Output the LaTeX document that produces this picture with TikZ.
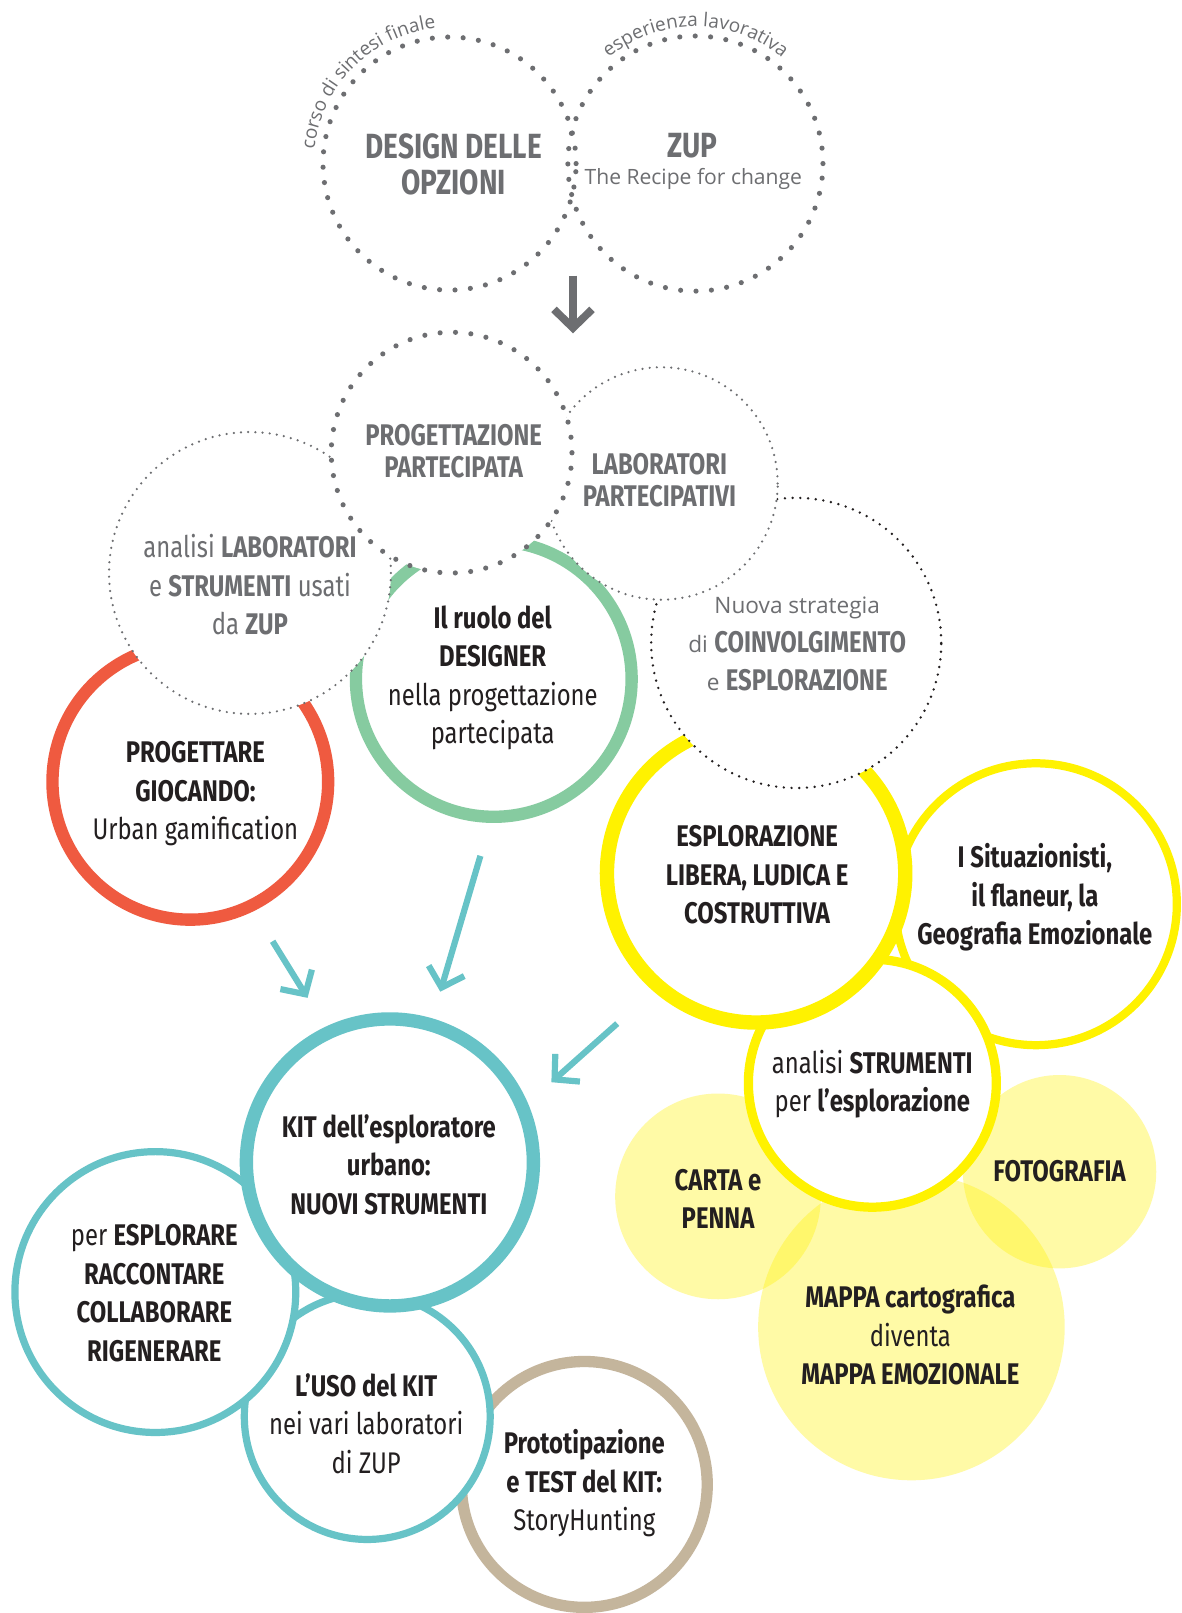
\documentclass[tikz,border=0pt]{standalone}
\usepackage{fontspec}
\setmainfont{Fira Sans}[FakeStretch=0.8]
\newfontfamily\osans{Open Sans}
\usetikzlibrary{arrows.meta,decorations.text}
\definecolor{cgray}{HTML}{6D6E71}
\definecolor{cdark}{HTML}{231F20}
\definecolor{cred}{HTML}{EF5A40}
\definecolor{cgreen}{HTML}{86CBA0}
\definecolor{cyel}{HTML}{FFF200}
\definecolor{cteal}{HTML}{67C3C7}
\definecolor{ctan}{HTML}{C4B59C}
\begin{document}
\begin{tikzpicture}[x=1pt,y=-1pt,
  ring/.style={circle, fill=white, inner sep=0pt},
  bigdots/.style={circle, draw=cgray, line width=5pt, line cap=round, dash pattern=on 0pt off 15pt, inner sep=0pt},
  finedots/.style={circle, draw=cgray, fill=white, line width=2.4pt, line cap=round, dash pattern=on 0pt off 7pt, inner sep=0pt},
  blob/.style={circle, fill=cyel, fill opacity=0.35, inner sep=0pt},
  tx/.style={align=center, text=cdark, font=\fontsize{29}{37.5}\selectfont},
  gtx/.style={align=center, text=cgray, font=\fontsize{29}{31}\selectfont},
  tealarrow/.style={draw=cteal, line width=6pt, -{Straight Barb[sharp, length=17pt, width=36pt, line width=6pt]}},
]
\fill[white] (0,0) rectangle (1149,1568);
\useasboundingbox (0,0) rectangle (1149,1568);

% top circles
\node[bigdots, minimum size=246pt] (design) at (437,159) {};
\node[bigdots, minimum size=248pt] (zup) at (676,159) {};
\path[decorate, decoration={text along path, text={|\osans\fontsize{18.5}{18.5}\selectfont|corso di sintesi finale}, text align=center, text color=cgray}]
  (design.center) ++(180:132) arc[start angle=180, end angle=270, radius=132];
\path[decorate, decoration={text along path, text={|\osans\fontsize{18.5}{18.5}\selectfont|esperienza lavorativa}, text align=center, text color=cgray}]
  (zup.center) ++(225:133) arc[start angle=225, end angle=315, radius=133];

\coordinate (ga1) at (557,268);
\coordinate (ga2) at (557,324);
\draw[draw=cgray, line width=7.5pt, -{Straight Barb[sharp, length=18pt, width=37pt, line width=7.5pt]}] (ga1) -- (ga2);

% middle colored rings
\node[ring, draw=cred, line width=12pt, minimum size=268pt] (red) at (185,760) {};
\node[ring, draw=cgreen, line width=12pt, minimum size=268pt] (green) at (480,660) {};

% light yellow blobs
\node[blob, minimum size=200pt] (carta) at (698,1163) {};
\node[blob, minimum size=188pt] (foto) at (1030,1139) {};
\node[blob, minimum size=298pt] (mappa) at (886,1290) {};

\node[ring, draw=cyel, line width=8pt, minimum size=274pt] (situ) at (1007,879) {};
\node[ring, draw=cyel, line width=9pt, minimum size=241pt] (strum) at (848,1053) {};
\node[ring, draw=cyel, line width=14pt, minimum size=290pt] (esplor) at (735,849) {};

% dotted white circles
\node[finedots, draw=cdark, line width=2.6pt, dash pattern=on 0pt off 7.5pt, minimum size=282pt] (nuova) at (774,625) {};
\node[finedots, minimum size=226pt] (labor) at (643,470) {};
\node[finedots, minimum size=274pt] (analisi) at (243,557) {};
\node[bigdots, fill=white, minimum size=234pt] (prog) at (439,440) {};

% bottom rings
\node[ring, draw=ctan, line width=11pt, minimum size=239pt] (proto) at (568,1443) {};
\node[ring, draw=cteal, line width=7pt, minimum size=239pt] (uso) at (357,1377) {};
\node[ring, draw=cteal, line width=7pt, minimum size=273pt] (per) at (151,1256) {};
\node[ring, draw=cteal, line width=13pt, minimum size=279pt] (kit) at (379,1130) {};

% teal arrows
\coordinate (a1s) at (265,915); \coordinate (a1e) at (299,970);
\coordinate (a2s) at (467,832); \coordinate (a2e) at (428,964);
\coordinate (a3s) at (600,995); \coordinate (a3e) at (536,1052);
\draw[tealarrow] (a1s) -- (a1e);
\draw[tealarrow] (a2s) -- (a2e);
\draw[tealarrow] (a3s) -- (a3e);

% texts
\node[gtx, font=\fontsize{34}{35}\selectfont\bfseries] (tdesign) at (441,159.5) {DESIGN DELLE\\OPZIONI};
\node[gtx, font=\fontsize{34}{35}\selectfont\bfseries] (tzupa) at (673,142) {ZUP};
\node[gtx, font=\osans\fontsize{20.5}{24}\selectfont] (tzupb) at (674,174) {The Recipe for change};
\node[gtx, font=\fontsize{29}{31}\selectfont\bfseries] (tprog) at (441,438.5) {PROGETTAZIONE\\PARTECIPATA};
\node[gtx, font=\fontsize{29}{31}\selectfont\bfseries] (tlabor) at (641,466.5) {LABORATORI\\PARTECIPATIVI};
\node[gtx, font=\fontsize{29}{37.5}\selectfont] (tanalisi) at (243,568.5) {analisi \textbf{LABORATORI}\\e \textbf{STRUMENTI} usati\\da \textbf{ZUP}};
\node[gtx, font=\fontsize{29}{37}\selectfont] (tnuova) at (775,626) {{\osans\fontsize{22}{37}\selectfont Nuova strategia}\\{\osans\fontsize{22}{37}\selectfont di} \textbf{COINVOLGIMENTO}\\{\osans\fontsize{22}{37}\selectfont e} \textbf{ESPLORAZIONE}};
\node[tx] (truolo) at (479,659) {\textbf{Il ruolo del}\\\textbf{DESIGNER}\\nella progettazione\\partecipata};
\node[tx] (tprogettare) at (190,771.5) {\textbf{PROGETTARE}\\\textbf{GIOCANDO:}\\Urban gamification};
\node[tx, font=\fontsize{29}{37.5}\selectfont\bfseries] (tesplor) at (736,850.5) {ESPLORAZIONE\\LIBERA, LUDICA E\\COSTRUTTIVA};
\node[tx, font=\fontsize{29}{37.5}\selectfont\bfseries] (tsitu) at (1006,872.5) {I Situazionisti,\\il flaneur, la\\Geografia Emozionale};
\node[tx] (tstrum) at (848,1054) {analisi \textbf{STRUMENTI}\\per \textbf{l’esplorazione}};
\node[tx, font=\fontsize{29}{37.5}\selectfont\bfseries] (tcarta) at (698,1165.5) {CARTA e\\PENNA};
\node[tx, font=\fontsize{29}{37.5}\selectfont\bfseries] (tfoto) at (1030,1138) {FOTOGRAFIA};
\node[tx] (tmappa) at (885,1298) {\textbf{MAPPA cartografica}\\diventa\\\textbf{MAPPA EMOZIONALE}};
\node[tx, font=\fontsize{29}{37.5}\selectfont\bfseries] (tkit) at (378,1132) {KIT dell’esploratore\\urbano:\\NUOVI STRUMENTI};
\node[tx] (tper) at (150,1257) {per \textbf{ESPLORARE}\\\textbf{RACCONTARE}\\\textbf{COLLABORARE}\\\textbf{RIGENERARE}};
\node[tx] (tuso) at (356,1384) {\textbf{L’USO del KIT}\\nei vari laboratori\\di ZUP};
\node[tx] (tproto) at (568,1442) {\textbf{Prototipazione}\\\textbf{e TEST del KIT:}\\StoryHunting};
\end{tikzpicture}
\end{document}
